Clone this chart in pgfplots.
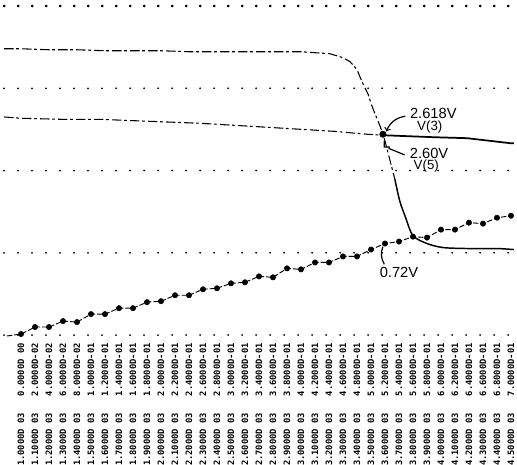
\documentclass[border=0pt]{standalone}
\usepackage{pgfplots}
\pgfplotsset{compat=1.18}
\usepackage{fontspec}
\setmainfont{Liberation Sans}
\setmonofont{DejaVu Sans Mono}
\newcommand{\TL}[2]{#2\hspace{12.5pt}#1}
\begin{document}
\begin{tikzpicture}
\begin{axis}[
  scale only axis, width=382.5pt, height=252.92pt,
  xmin=-0.0243, xmax=0.7043, ymin=0, ymax=4.1,
  clip=false,
  axis line style={draw=none},
  major tick length=0pt,
  ytick={0,1,2,3,4}, yticklabels={},
  ymajorgrids,
  major grid style={black, line width=1.5pt, line cap=round, dash pattern=on 0pt off 10.5pt},
  xtick={0,0.02,0.04,0.06,0.08,0.10,0.12,0.14,0.16,0.18,0.20,0.22,0.24,0.26,0.28,0.30,0.32,0.34,0.36,0.38,0.40,0.42,0.44,0.46,0.48,0.50,0.52,0.54,0.56,0.58,0.60,0.62,0.64,0.66,0.68,0.70},
  xticklabels={
   \TL{0.0000D 00}{1.0000D 03},\TL{2.0000D-02}{1.1000D 03},\TL{4.0000D-02}{1.2000D 03},\TL{6.0000D-02}{1.3000D 03},
   \TL{8.0000D-02}{1.4000D 03},\TL{1.0000D-01}{1.5000D 03},\TL{1.2000D-01}{1.6000D 03},\TL{1.4000D-01}{1.7000D 03},
   \TL{1.6000D-01}{1.8000D 03},\TL{1.8000D-01}{1.9000D 03},\TL{2.0000D-01}{2.0000D 03},\TL{2.2000D-01}{2.1000D 03},
   \TL{2.4000D-01}{2.2000D 03},\TL{2.6000D-01}{2.3000D 03},\TL{2.8000D-01}{2.4000D 03},\TL{3.0000D-01}{2.5000D 03},
   \TL{3.2000D-01}{2.6000D 03},\TL{3.4000D-01}{2.7000D 03},\TL{3.6000D-01}{2.8000D 03},\TL{3.8000D-01}{2.9000D 03},
   \TL{4.0000D-01}{3.0000D 03},\TL{4.2000D-01}{3.1000D 03},\TL{4.4000D-01}{3.2000D 03},\TL{4.6000D-01}{3.3000D 03},
   \TL{4.8000D-01}{3.4000D 03},\TL{5.0000D-01}{3.5000D 03},\TL{5.2000D-01}{3.6000D 03},\TL{5.4000D-01}{3.7000D 03},
   \TL{5.6000D-01}{3.8000D 03},\TL{5.8000D-01}{3.9000D 03},\TL{6.0000D-01}{4.0000D 03},\TL{6.2000D-01}{4.1000D 03},
   \TL{6.4000D-01}{4.2000D 03},\TL{6.6000D-01}{4.3000D 03},\TL{6.8000D-01}{4.4000D 03},\TL{7.0000D-01}{4.5000D 03}},
  xticklabel style={rotate=90, anchor=east, inner sep=0pt, font=\ttfamily\bfseries\fontsize{6.6}{7}\selectfont},
  xticklabel shift=6pt,
]
% top printer row of dots
\addplot[only marks, mark=*, mark size=0.8pt, black] coordinates {
(-0.024,4) (-0.004,4) (0.016,4) (0.036,4) (0.056,4) (0.076,4) (0.096,4) (0.116,4) (0.136,4)
(0.156,4) (0.176,4) (0.196,4) (0.216,4) (0.236,4) (0.256,4) (0.276,4) (0.296,4) (0.316,4)
(0.336,4) (0.356,4) (0.376,4) (0.396,4) (0.416,4) (0.436,4) (0.456,4) (0.476,4) (0.496,4)
(0.516,4) (0.536,4) (0.556,4) (0.576,4) (0.596,4) (0.616,4) (0.636,4) (0.656,4) (0.676,4) (0.696,4)};
% V(5): dashed upper part
\addplot[black, line width=0.8pt, dash pattern=on 7pt off 2pt on 2pt off 2.5pt] coordinates {
(-0.024,3.480) (0.00,3.480) (0.04,3.468) (0.08,3.468) (0.12,3.456) (0.16,3.456) (0.20,3.456)
(0.24,3.444) (0.28,3.444) (0.32,3.444) (0.36,3.444) (0.40,3.444) (0.42,3.432) (0.441,3.420)
(0.460,3.372) (0.470,3.323) (0.480,3.227) (0.487,3.082) (0.496,2.925) (0.500,2.816)
(0.506,2.683) (0.513,2.538) (0.517,2.441) (0.520,2.357) (0.534,1.897)};
% V(5): solid lower part
\addplot[black, line width=1.1pt, smooth] coordinates {
(0.534,1.897) (0.541,1.632) (0.549,1.438) (0.560,1.208) (0.580,1.112) (0.603,1.063)
(0.64,1.051) (0.68,1.051) (0.704,1.039)};
% V(3): dashed left part
\addplot[black, line width=0.8pt, dash pattern=on 7pt off 2pt on 2pt off 2.5pt] coordinates {
(-0.024,2.651) (0.00,2.635) (0.06,2.622) (0.113,2.622) (0.184,2.598) (0.256,2.574)
(0.351,2.526) (0.446,2.477) (0.494,2.441) (0.517,2.429)};
% V(3): solid right part
\addplot[black, line width=1.3pt] coordinates {
(0.517,2.429) (0.589,2.405) (0.637,2.393) (0.699,2.332) (0.704,2.332)};
% rising series (line)
\addplot[black, line width=0.7pt, dash pattern=on 4pt off 1.5pt] coordinates {
(-0.020,-0.012) (0.00,0.012) (0.02,0.097) (0.04,0.097) (0.06,0.169) (0.08,0.157) (0.10,0.254)
(0.12,0.254) (0.14,0.326) (0.16,0.326) (0.18,0.399) (0.20,0.411) (0.22,0.483) (0.24,0.483)
(0.26,0.556) (0.28,0.568) (0.30,0.628) (0.32,0.641) (0.34,0.713) (0.36,0.701) (0.38,0.810)
(0.40,0.798) (0.42,0.882) (0.44,0.882) (0.46,0.955) (0.48,0.955) (0.50,1.039) (0.52,1.112)
(0.54,1.136) (0.56,1.196) (0.58,1.184) (0.60,1.281) (0.62,1.281) (0.64,1.366) (0.66,1.354)
(0.68,1.426) (0.70,1.450)};
% rising series (marks)
\addplot[only marks, mark=*, mark size=2pt, black] coordinates {
(0.00,0.012) (0.02,0.097) (0.04,0.097) (0.06,0.169) (0.08,0.157) (0.10,0.254)
(0.12,0.254) (0.14,0.326) (0.16,0.326) (0.18,0.399) (0.20,0.411) (0.22,0.483) (0.24,0.483)
(0.26,0.556) (0.28,0.568) (0.30,0.628) (0.32,0.641) (0.34,0.713) (0.36,0.701) (0.38,0.810)
(0.40,0.798) (0.42,0.882) (0.44,0.882) (0.46,0.955) (0.48,0.955) (0.50,1.039) (0.52,1.112)
(0.54,1.136) (0.56,1.196) (0.58,1.184) (0.60,1.281) (0.62,1.281) (0.64,1.366) (0.66,1.354)
(0.68,1.426) (0.70,1.450)};
% crossing point
\addplot[only marks, mark=*, mark size=2.4pt, black] coordinates {(0.517,2.441)};
% annotations
\node[font=\fontsize{11}{12}\selectfont] at (axis cs:0.589,2.690) {2.618V};
\node[font=\fontsize{10}{11}\selectfont] at (axis cs:0.584,2.526) {V(3)};
\node[font=\fontsize{11}{12}\selectfont] at (axis cs:0.583,2.205) {2.60V};
\node[font=\fontsize{10}{11}\selectfont] at (axis cs:0.579,2.050) {V(5)};
\node[font=\fontsize{11}{12}\selectfont] at (axis cs:0.540,0.761) {0.72V};
\draw[->, line width=0.9pt] (axis cs:0.549,2.660) to[bend right=30] (axis cs:0.522,2.475);
\draw[line width=0.9pt] (axis cs:0.519,2.360) -- (axis cs:0.519,2.285) -- (axis cs:0.527,2.285) (axis cs:0.525,2.270) -- (axis cs:0.548,2.190);
\draw[line width=0.9pt] (axis cs:0.517,1.075) to[bend right=25] (axis cs:0.519,0.860);
\end{axis}
\pgfresetboundingbox
\path ([shift={(-3pt,-96.75pt)}]current axis.south west) rectangle ([shift={(2.25pt,-1.669pt)}]current axis.north east);
\end{tikzpicture}
\end{document}
